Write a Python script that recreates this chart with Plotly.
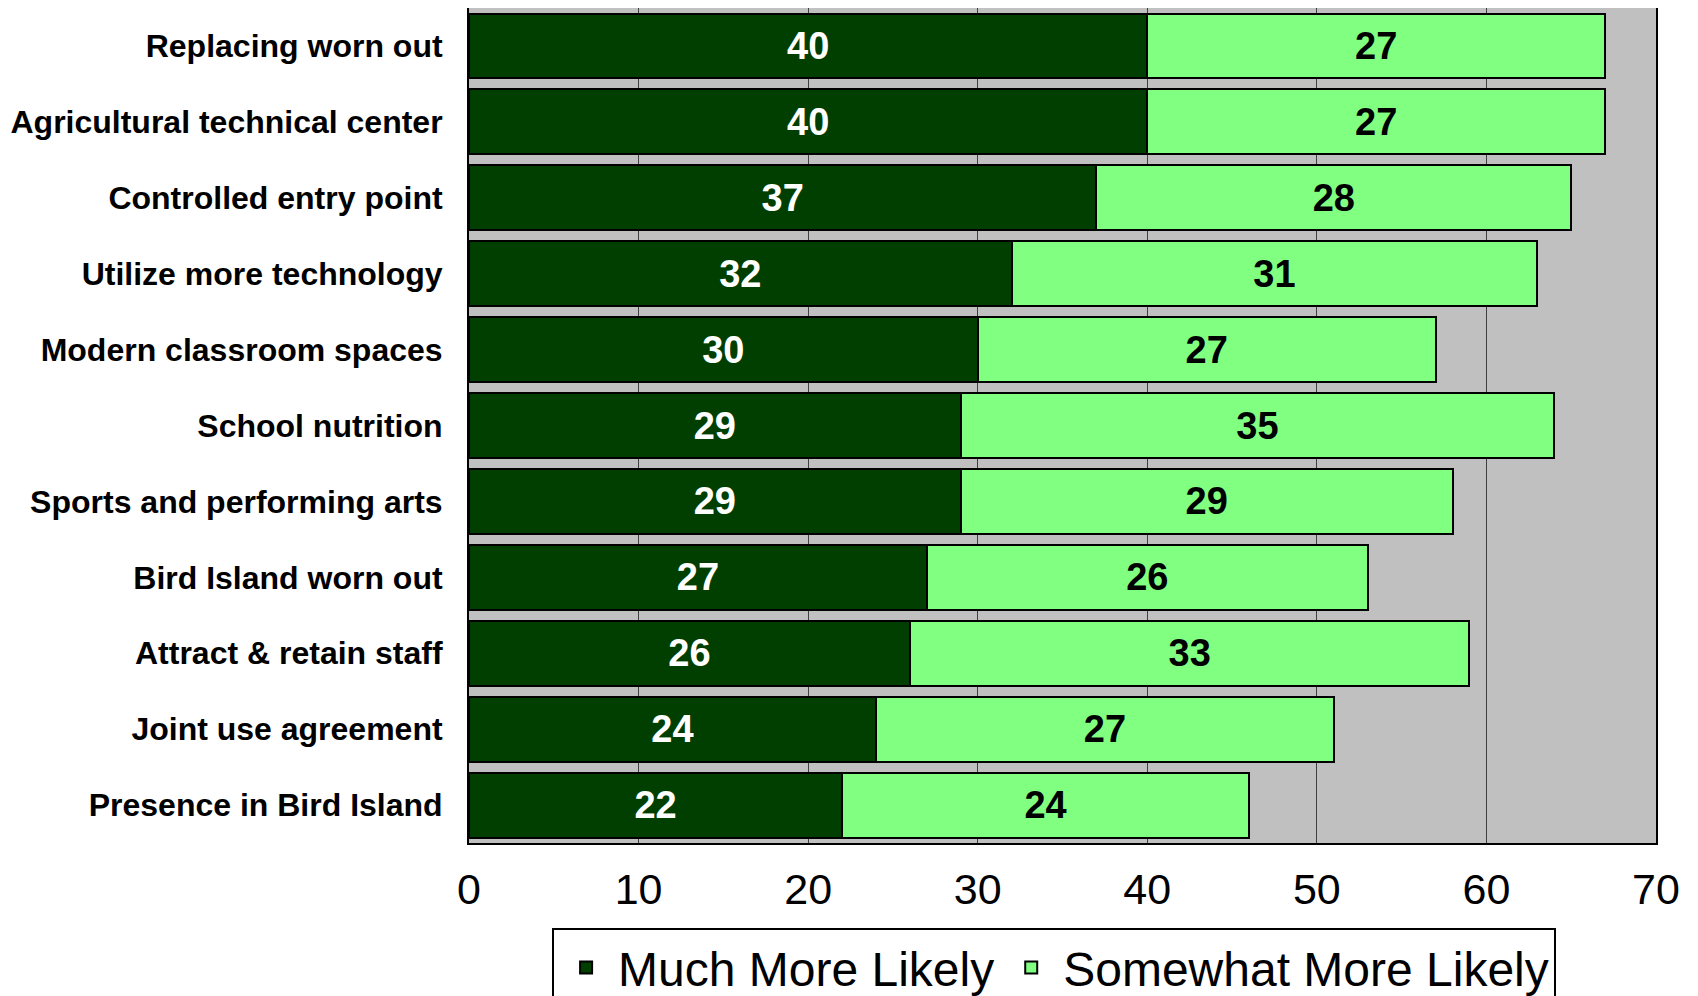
import plotly.graph_objects as go

categories = ["Replacing worn out", "Agricultural technical center", "Controlled entry point",
              "Utilize more technology", "Modern classroom spaces", "School nutrition",
              "Sports and performing arts", "Bird Island worn out", "Attract & retain staff",
              "Joint use agreement", "Presence in Bird Island"]
much_more = [40, 40, 37, 32, 30, 29, 29, 27, 26, 24, 22]
somewhat_more = [27, 27, 28, 31, 27, 35, 29, 26, 33, 27, 24]
x_ticks = [0, 10, 20, 30, 40, 50, 60, 70]

FONT = "Liberation Sans, Arial, sans-serif"

fig = go.Figure()
fig.add_trace(go.Bar(
    y=categories, x=much_more, orientation="h", name="Much More Likely",
    marker=dict(color="#003F00", line=dict(color="black", width=2)),
    text=much_more, textposition="inside", insidetextanchor="middle", textangle=0,
    constraintext="none",
    textfont=dict(family=FONT, size=38, color="white", weight="bold"),
))
fig.add_trace(go.Bar(
    y=categories, x=somewhat_more, orientation="h", name="Somewhat More Likely",
    marker=dict(color="#80FF80", line=dict(color="black", width=2)),
    text=somewhat_more, textposition="inside", insidetextanchor="middle", textangle=0,
    constraintext="none",
    textfont=dict(family=FONT, size=38, color="black", weight="bold"),
))

fig.update_layout(
    barmode="stack", bargap=0.145,
    width=1698, height=996,
    margin=dict(l=461, r=50, t=0, b=161, autoexpand=False),
    paper_bgcolor="white", plot_bgcolor="#C0C0C0",
    font=dict(family=FONT, color="black"),
    showlegend=True,
    legend=dict(orientation="h", x=0.07, y=-0.1015, xanchor="left", yanchor="top",
                bordercolor="black", borderwidth=2, bgcolor="white",
                font=dict(family=FONT, size=48, color="black"),
                itemwidth=54,
                traceorder="normal"),
)
fig.update_xaxes(range=[0, 70], tickvals=x_ticks, ticktext=[str(v) for v in x_ticks],
                 showgrid=True, gridcolor="#404040", gridwidth=1,
                 showline=True, linecolor="black", linewidth=2, mirror=True,
                 ticks="", tickfont=dict(family=FONT, size=43, color="black"),
                 ticklabelstandoff=7, zeroline=False)
fig.update_yaxes(autorange="reversed", showgrid=False,
                 showline=True, linecolor="black", linewidth=2, mirror=True,
                 ticks="", tickfont=dict(family=FONT, size=32, color="black", weight="bold"),
                 ticklabelstandoff=18)

fig.write_html("out.html")
